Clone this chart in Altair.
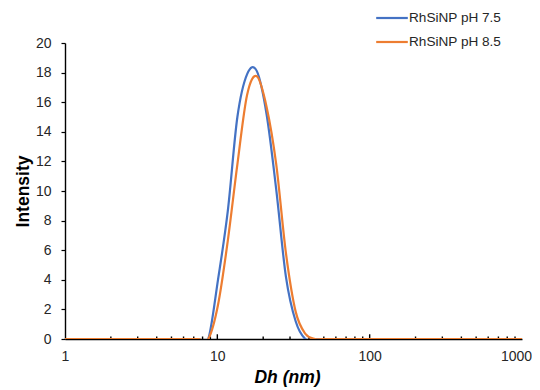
import altair as alt
import pandas as pd

# DLS size bins (nm)
sizes = [0.9649, 1.117, 1.294, 1.499, 1.736, 2.010, 2.328, 2.696, 3.122, 3.615,
         4.187, 4.849, 5.615, 6.503, 7.531, 8.721, 10.10, 11.70, 13.54, 15.69,
         18.17, 21.04, 24.36, 28.21, 32.67, 37.84, 43.82, 50.75, 58.77, 68.06,
         78.82, 91.28, 105.7, 122.4, 141.8, 164.2, 190.1, 220.2, 255.0, 295.3,
         342.0, 396.1, 458.7, 531.2, 615.1, 712.4, 825.0, 955.4, 1106]

ph75 = [0, 0, 0, 0, 0, 0, 0, 0, 0, 0,
        0, 0, 0, 0, 0, 0, 4.0, 8.6, 15.0, 17.9,
        18.1, 15.2, 10.1, 4.2, 1.2, 0, 0, 0, 0, 0,
        0, 0, 0, 0, 0, 0, 0, 0, 0, 0,
        0, 0, 0, 0, 0, 0, 0, 0, 0]

ph85 = [0, 0, 0, 0, 0, 0, 0, 0, 0, 0,
        0, 0, 0, 0, 0, 0, 2.3, 6.6, 11.8, 16.5,
        17.75, 15.7, 11.8, 5.8, 1.85, 0.35, 0, 0, 0, 0,
        0, 0, 0, 0, 0, 0, 0, 0, 0, 0,
        0, 0, 0, 0, 0, 0, 0, 0, 0]

series_names = ["RhSiNP pH 7.5", "RhSiNP pH 8.5"]
series_colors = ["#4472C4", "#ED7D31"]

minor_ticks = [2, 3, 4, 5, 6, 7, 8, 9, 20, 30, 40, 50, 60, 70, 80, 90,
               200, 300, 400, 500, 600, 700, 800, 900]
major_ticks = [10, 100]
x_labels = [1, 10, 100, 1000]
y_ticks = [0, 2, 4, 6, 8, 10, 12, 14, 16, 18, 20]

df = pd.concat([
    pd.DataFrame({"Dh": sizes, "Intensity": ph75, "Series": series_names[0]}),
    pd.DataFrame({"Dh": sizes, "Intensity": ph85, "Series": series_names[1]}),
])

ticks_df = pd.concat([
    pd.DataFrame({"t": minor_ticks, "b": 0.0, "h": 0.17}),
    pd.DataFrame({"t": major_ticks, "b": 0.0, "h": 0.32}),
])

xscale = alt.Scale(type="log", domain=[1, 1000])
yscale = alt.Scale(domain=[0, 20])

xaxis = alt.Axis(title="Dh (nm)", values=x_labels, format="d", ticks=False,
                 labelFlush=False, labelPadding=10, titlePadding=5,
                 labelOffset={"condition": {"test": "datum.value >= 1000", "value": -6},
                              "value": 0},
                 titleFontStyle="italic", titleX=222)
yaxis = alt.Axis(title="Intensity", values=y_ticks, tickSize=4,
                 labelPadding=10, titlePadding=3)

lines = alt.Chart(df).mark_line(strokeWidth=2.2, interpolate="cardinal", clip=True).encode(
    x=alt.X("Dh:Q", scale=xscale, axis=xaxis),
    y=alt.Y("Intensity:Q", scale=yscale, axis=yaxis),
    color=alt.Color("Series:N",
                    scale=alt.Scale(domain=series_names, range=series_colors),
                    legend=alt.Legend(title=None, orient="none", legendX=310, legendY=-42,
                                      symbolType="stroke", symbolSize=1000,
                                      symbolStrokeWidth=2.2, labelFontSize=13.6,
                                      labelColor="#262626", rowPadding=0, padding=0,
                                      labelOffset=0)),
)

tick_marks = alt.Chart(ticks_df).mark_rule(color="black", strokeWidth=1.4).encode(
    x=alt.X("t:Q", scale=xscale, axis=xaxis),
    y=alt.Y("b:Q", scale=yscale, axis=yaxis),
    y2="h:Q",
)

chart = alt.layer(tick_marks, lines).properties(
    width=457, height=296,
    autosize=alt.AutoSizeParams(type="none"),
    padding={"left": 57, "top": 35, "right": 10, "bottom": 50},
).configure(font="Liberation Sans").configure_view(stroke=None).configure_axis(
    grid=False, domainColor="black", domainWidth=1.4, tickColor="black", tickWidth=1.2,
    labelFontSize=14, labelColor="#262626", titleFontSize=17.5, titleFontWeight="bold",
    titleColor="black",
)

chart.save("out.html", embed_options={"renderer": "svg", "actions": False})
